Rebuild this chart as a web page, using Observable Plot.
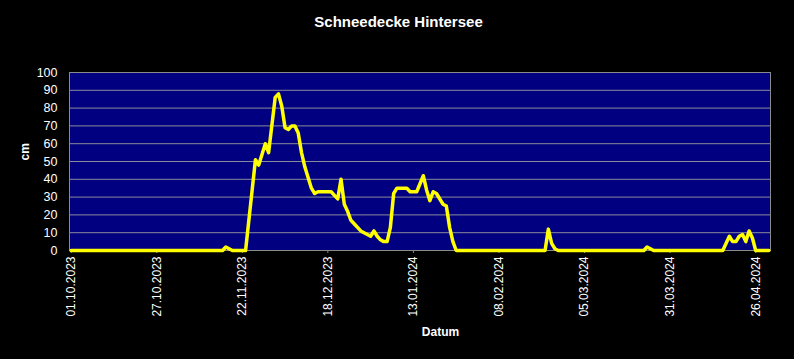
<!DOCTYPE html>
<html>
<head>
<meta charset="utf-8">
<script src="https://cdn.jsdelivr.net/npm/d3@7"></script>
<script src="https://cdn.jsdelivr.net/npm/@observablehq/plot@0.6"></script>
<style>
  html, body { margin: 0; padding: 0; background: #000; }
  #chart { width: 794px; height: 359px; }
</style>
</head>
<body>
<div id="chart"></div>
<script>
const title = "Schneedecke Hintersee";
const yLabel = "cm";
const xLabel = "Datum";

const dates = [
  "2023-10-01","2023-11-16","2023-11-17","2023-11-18","2023-11-19","2023-11-23",
  "2023-11-26","2023-11-27","2023-11-29","2023-11-30","2023-12-02","2023-12-03",
  "2023-12-04","2023-12-05","2023-12-06","2023-12-07","2023-12-08","2023-12-09",
  "2023-12-10","2023-12-11","2023-12-12","2023-12-13","2023-12-14","2023-12-15",
  "2023-12-19","2023-12-20","2023-12-21","2023-12-22","2023-12-23","2023-12-24",
  "2023-12-25","2023-12-26","2023-12-28","2023-12-30","2023-12-31","2024-01-01",
  "2024-01-02","2024-01-03","2024-01-04","2024-01-05","2024-01-06","2024-01-07",
  "2024-01-08","2024-01-11","2024-01-12","2024-01-14","2024-01-16","2024-01-17",
  "2024-01-18","2024-01-19","2024-01-20","2024-01-22","2024-01-23","2024-01-24",
  "2024-01-25","2024-01-26","2024-02-22","2024-02-23","2024-02-24","2024-02-25",
  "2024-02-26","2024-03-23","2024-03-24","2024-03-25","2024-03-26","2024-04-16",
  "2024-04-18","2024-04-19","2024-04-20","2024-04-21","2024-04-22","2024-04-23",
  "2024-04-24","2024-04-25","2024-04-26","2024-04-30"
];
const snow = [
  0,0,2,1,0,0,
  51,48,60,55,86,88,
  81,69,68,70,70,66,
  55,47,41,35,32,33,
  33,31,29,40,26,22,
  17,15,11,9,8,11,
  8,6,5,5,13,32,
  35,35,33,33,42,34,
  28,33,32,26,25,13,
  5,0,0,12,4,1,
  0,0,2,1,0,0,
  8,5,5,8,9,5,
  11,7,0,0
];
const tickDates = ["2023-10-01","2023-10-27","2023-11-22","2023-12-18","2024-01-13","2024-02-08","2024-03-05","2024-03-31","2024-04-26"];
const yTicks = [0,10,20,30,40,50,60,70,80,90,100];

const parse = d3.utcParse("%Y-%m-%d");
const data = dates.map((d, i) => ({date: parse(d), value: snow[i]}));
const ticks = tickDates.map(parse);
const fmt = d3.utcFormat("%d.%m.%Y");
const half = 12 * 3600 * 1000;
const x0 = new Date(parse("2023-10-01").getTime() - half);
const x1 = new Date(parse("2024-04-30").getTime() + half);

const chart = Plot.plot({
  width: 794,
  height: 359,
  marginLeft: 69,
  marginRight: 24,
  marginTop: 72,
  marginBottom: 109,
  style: {background: "#000", color: "#fff", fontFamily: "'Liberation Sans', Arial, sans-serif", fontSize: "12px"},
  x: {type: "utc", domain: [x0, x1]},
  y: {domain: [0, 100]},
  marks: [
    Plot.frame({fill: "#000080"}),
    Plot.gridY(yTicks, {stroke: "#8a8a9a", strokeOpacity: 1, strokeWidth: 1}),
    Plot.frame({stroke: "#8a8a8a"}),
    Plot.axisY({ticks: yTicks, tickSize: 0, tickPadding: 12, label: null, fill: "#fff", fontSize: 12.5}),
    Plot.axisX({ticks: ticks, tickFormat: fmt, tickRotate: -90, tickSize: 3, tickPadding: 3, label: null, stroke: "#8a8a8a", fill: "#fff", fontSize: 12}),
    Plot.line(data, {x: "date", y: "value", stroke: "#ffff00", strokeWidth: 3.5, strokeLinejoin: "round", strokeLinecap: "round"}),
    Plot.text([title], {text: d => d, frameAnchor: "top", dx: -21.5, dy: -50, fontSize: 15, fontWeight: "bold", fill: "#fff", lineAnchor: "middle"}),
    Plot.text([yLabel], {text: d => d, frameAnchor: "left", dx: -44, dy: -1, rotate: -90, fontSize: 12, fontWeight: "bold", fill: "#fff"}),
    Plot.text([xLabel], {text: d => d, frameAnchor: "bottom", dx: 20.5, dy: 82, fontSize: 12, fontWeight: "bold", fill: "#fff", lineAnchor: "middle"})
  ]
});
document.getElementById("chart").appendChild(chart);
</script>
</body>
</html>
